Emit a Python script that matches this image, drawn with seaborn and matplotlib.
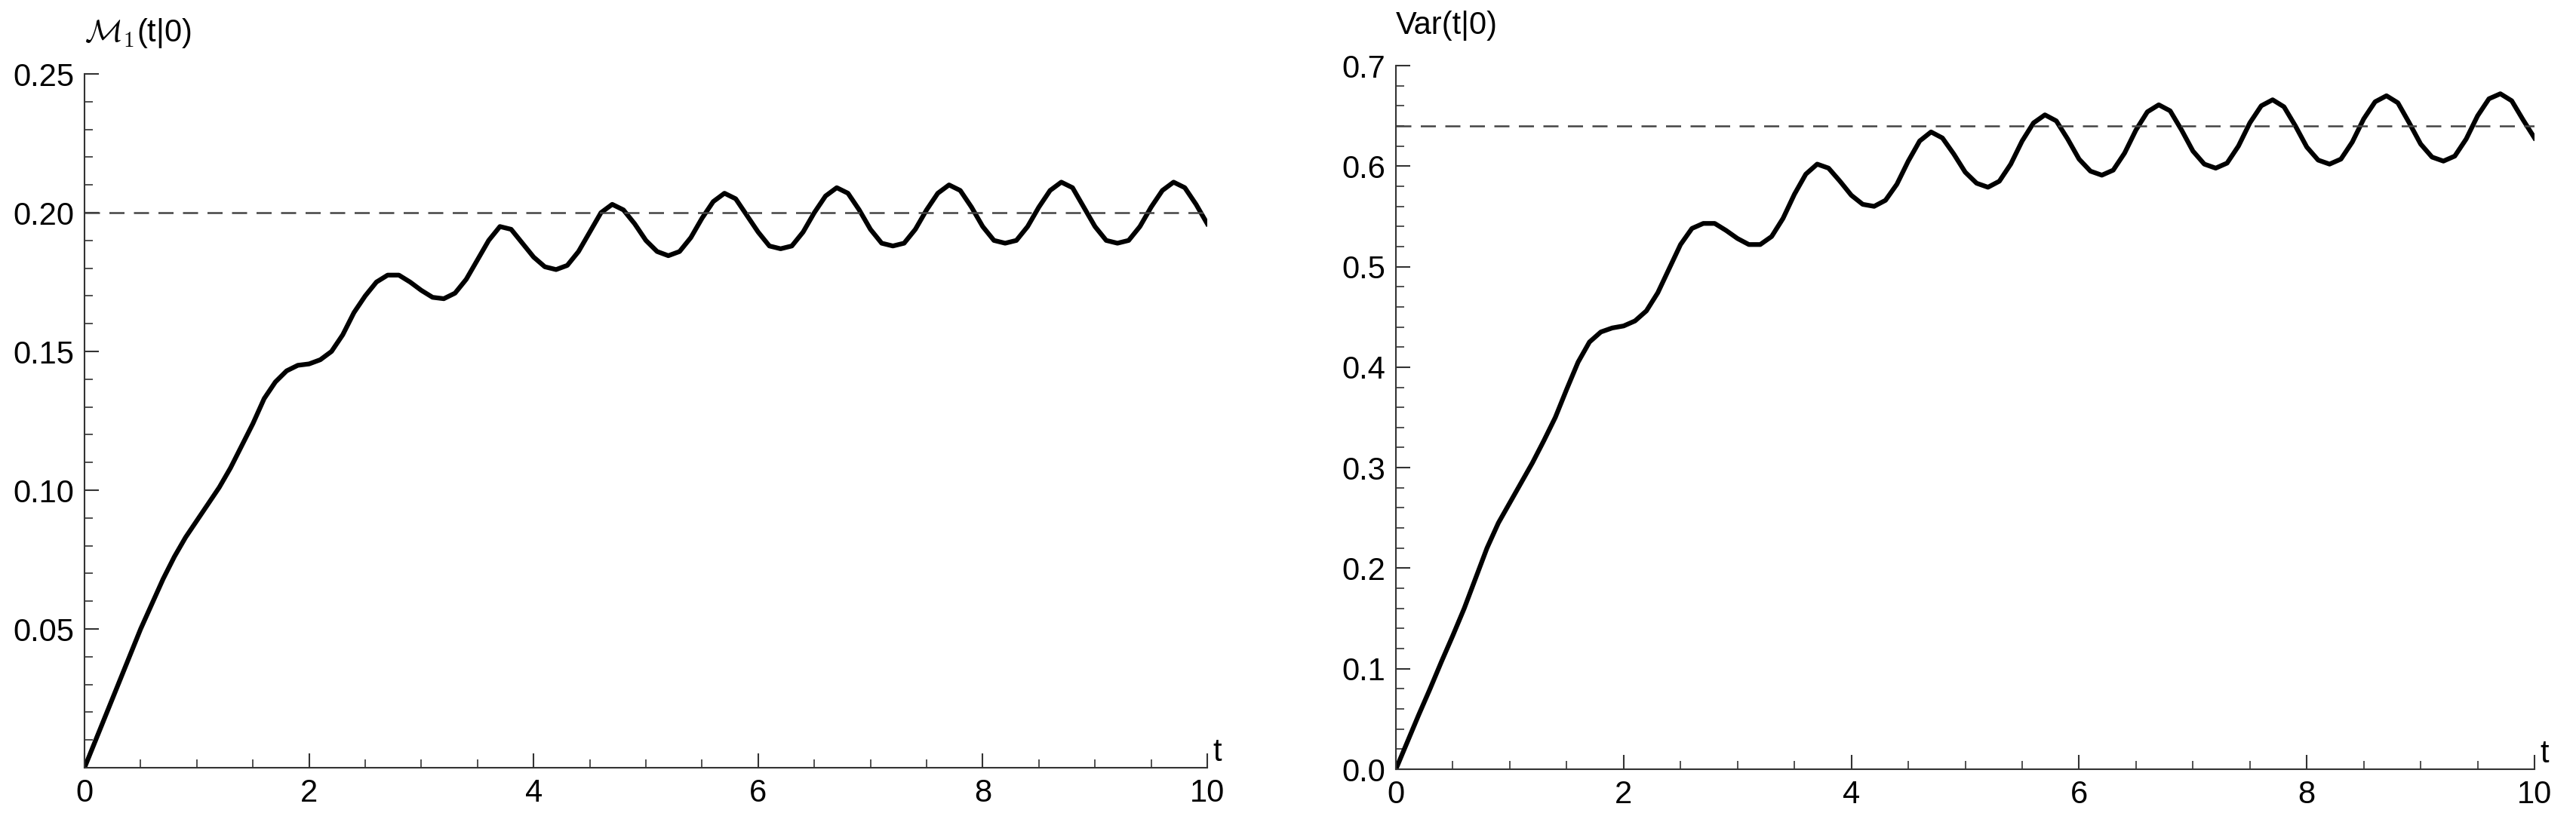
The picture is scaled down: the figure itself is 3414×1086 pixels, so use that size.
import numpy as np
import pandas as pd
import matplotlib
matplotlib.use("Agg")
import matplotlib.pyplot as plt
import seaborn as sns
from matplotlib.ticker import MultipleLocator

# time grid (step 0.1)
t = [round(0.1 * i, 1) for i in range(101)]

m1 = [0.000, 0.010, 0.020, 0.030, 0.040, 0.050, 0.059, 0.068, 0.076, 0.083,
      0.089, 0.095, 0.101, 0.108, 0.116, 0.124, 0.133, 0.139, 0.143, 0.145,
      0.1455, 0.147, 0.150, 0.156, 0.164, 0.170, 0.175, 0.1775, 0.1775, 0.175,
      0.172, 0.1695, 0.169, 0.171, 0.176, 0.183, 0.190, 0.195, 0.194, 0.189,
      0.184, 0.1805, 0.1795, 0.181, 0.186, 0.193, 0.200, 0.203, 0.201, 0.196,
      0.190, 0.186, 0.1845, 0.186, 0.191, 0.198, 0.204, 0.207, 0.205, 0.199,
      0.193, 0.188, 0.187, 0.188, 0.193, 0.200, 0.206, 0.209, 0.207, 0.201,
      0.194, 0.189, 0.188, 0.189, 0.194, 0.201, 0.207, 0.210, 0.208, 0.202,
      0.195, 0.190, 0.189, 0.190, 0.195, 0.202, 0.208, 0.211, 0.209, 0.202,
      0.195, 0.190, 0.189, 0.190, 0.195, 0.202, 0.208, 0.211, 0.209, 0.203,
      0.196]

var = [0.000, 0.027, 0.054, 0.080, 0.107, 0.133, 0.160, 0.190, 0.220, 0.245,
       0.265, 0.285, 0.305, 0.327, 0.350, 0.378, 0.405, 0.425, 0.435, 0.439,
       0.441, 0.446, 0.456, 0.474, 0.498, 0.522, 0.538, 0.543, 0.543, 0.536,
       0.528, 0.522, 0.522, 0.530, 0.548, 0.572, 0.592, 0.602, 0.598, 0.585,
       0.571, 0.562, 0.560, 0.566, 0.582, 0.605, 0.625, 0.634, 0.628, 0.612,
       0.594, 0.583, 0.579, 0.585, 0.602, 0.625, 0.643, 0.651, 0.645, 0.627,
       0.607, 0.595, 0.591, 0.596, 0.613, 0.636, 0.654, 0.661, 0.655, 0.636,
       0.615, 0.602, 0.598, 0.603, 0.620, 0.643, 0.660, 0.666, 0.659, 0.640,
       0.619, 0.606, 0.602, 0.607, 0.624, 0.647, 0.664, 0.670, 0.663, 0.643,
       0.622, 0.609, 0.605, 0.610, 0.627, 0.650, 0.667, 0.672, 0.665, 0.646,
       0.628]

m1_limit = 0.20
var_limit = 0.64

df = pd.DataFrame({"t": t, "m1": m1, "var": var})

plt.rcParams["font.family"] = "Liberation Sans"
plt.rcParams["mathtext.fontset"] = "cm"
fig = plt.figure(figsize=(34.14, 10.86), dpi=100)
ax1 = fig.add_axes([112 / 3414, 68 / 1086, 1488 / 3414, 920 / 1086])
ax2 = fig.add_axes([1850 / 3414, 66 / 1086, 1509 / 3414, 933 / 1086])


def style(ax, ymax, major, minor, ylabel):
    ax.set_xlim(0, 10)
    ax.set_ylim(0, ymax)
    ax.xaxis.set_major_locator(MultipleLocator(2))
    ax.xaxis.set_minor_locator(MultipleLocator(0.5))
    ax.yaxis.set_major_locator(MultipleLocator(major))
    ax.yaxis.set_minor_locator(MultipleLocator(minor))
    for s in ["top", "right"]:
        ax.spines[s].set_visible(False)
    for s in ["left", "bottom"]:
        ax.spines[s].set_linewidth(1.5)
        ax.spines[s].set_color("#333333")
    ax.tick_params(which="major", direction="in", length=14, width=1.5,
                   labelsize=30, pad=10, colors="#333333", labelcolor="black")
    ax.tick_params(which="minor", direction="in", length=8, width=1.2,
                   colors="#333333")
    ax.set_xlabel("")
    ax.set_ylabel("")
    ax.text(1.005, 0.0, "t", transform=ax.transAxes, fontsize=30,
            ha="left", va="bottom")
    ax.text(0.0, 1.035, ylabel, transform=ax.transAxes, fontsize=30,
            ha="left", va="bottom")


sns.lineplot(data=df, x="t", y="m1", ax=ax1, color="black", linewidth=4.5)
ax1.axhline(m1_limit, color="#444444", linewidth=1.8, dashes=(8, 5))
style(ax1, 0.25, 0.05, 0.01, r"$\mathcal{M}_1$(t|0)")
ax1.set_yticks([0.05, 0.10, 0.15, 0.20, 0.25])
ax1.set_yticklabels(["0.05", "0.10", "0.15", "0.20", "0.25"])

sns.lineplot(data=df, x="t", y="var", ax=ax2, color="black", linewidth=4.5)
ax2.axhline(var_limit, color="#444444", linewidth=1.8, dashes=(8, 5))
style(ax2, 0.7, 0.1, 0.02, "Var(t|0)")
ax2.set_yticks([0.0, 0.1, 0.2, 0.3, 0.4, 0.5, 0.6, 0.7])
ax2.set_yticklabels(["0.0", "0.1", "0.2", "0.3", "0.4", "0.5", "0.6", "0.7"])

for ax in (ax1, ax2):
    for lab in ax.get_xticklabels() + ax.get_yticklabels():
        lab.set_clip_on(False)

fig.savefig("out.png", dpi=100)
